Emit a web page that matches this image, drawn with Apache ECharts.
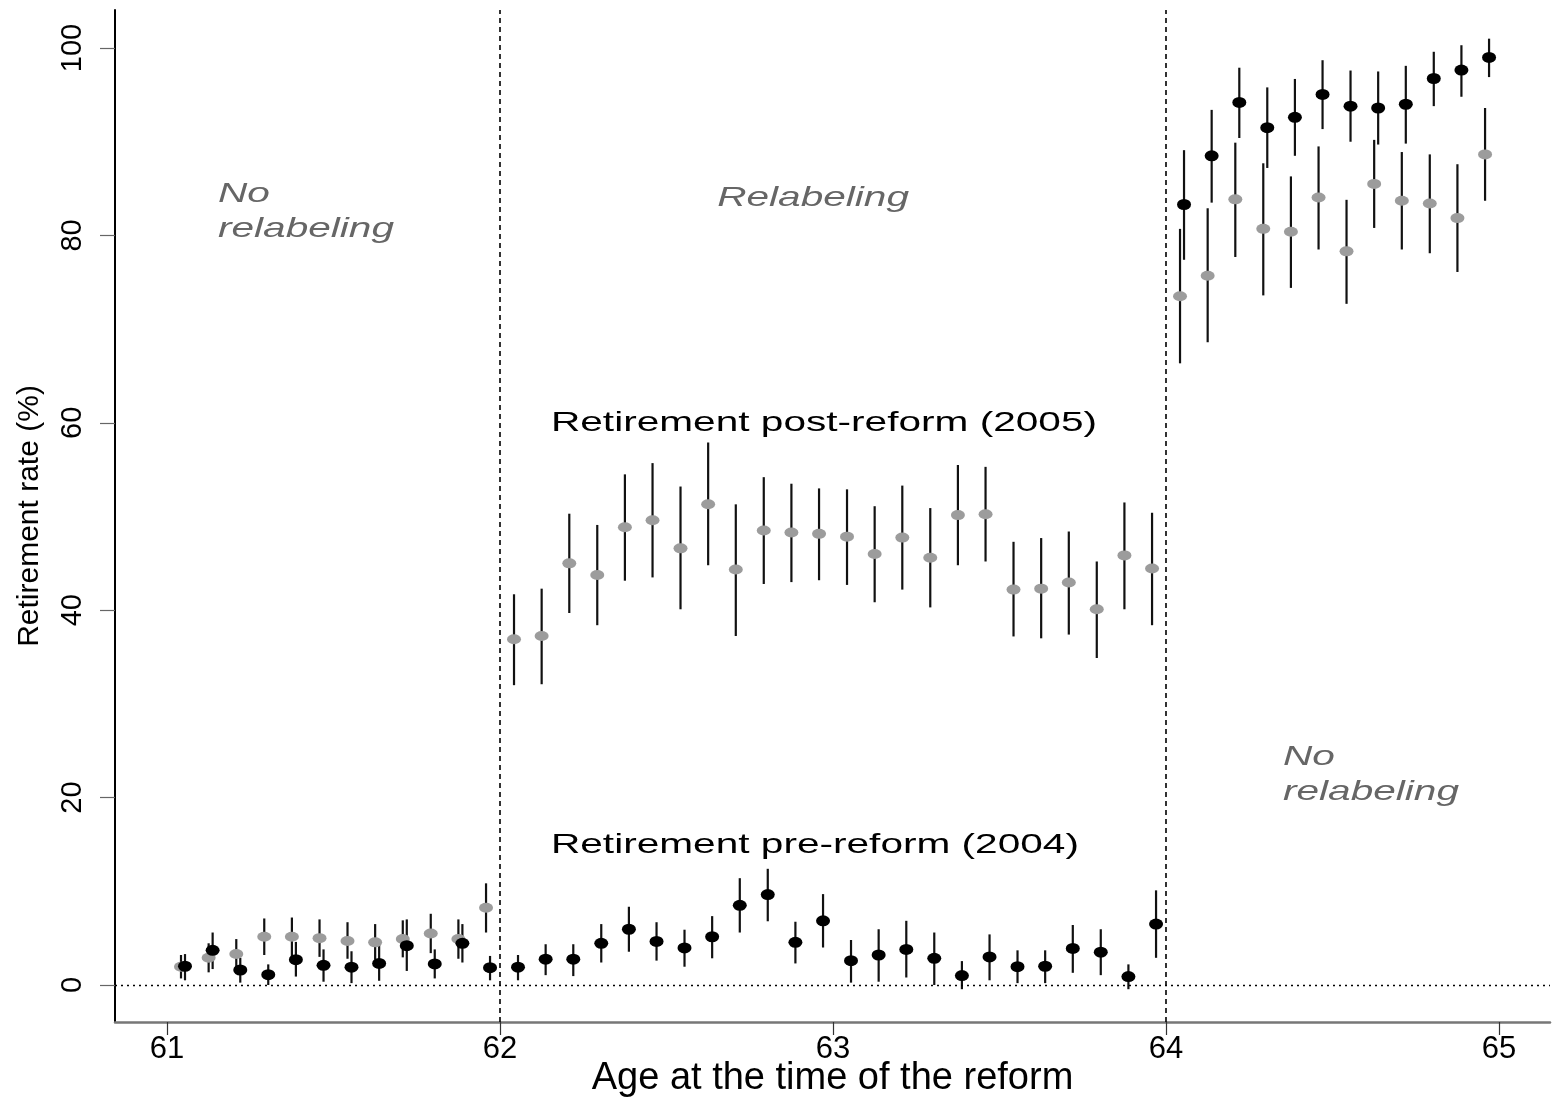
<!DOCTYPE html>
<html>
<head>
<meta charset="utf-8">
<script src="https://cdn.jsdelivr.net/npm/echarts@6/dist/echarts.min.js"></script>
<style>
html,body{margin:0;padding:0;background:#fff;}
#chart{width:1556px;height:1102px;}
</style>
</head>
<body>
<div id="chart"></div>
<script>
// Age at the time of the reform (monthly bins, midpoints)
const ages = [
  61.042, 61.125, 61.208, 61.292, 61.375, 61.458, 61.542, 61.625, 61.708, 61.792, 61.875, 61.958,
  62.042, 62.125, 62.208, 62.292, 62.375, 62.458, 62.542, 62.625, 62.708, 62.792, 62.875, 62.958,
  63.042, 63.125, 63.208, 63.292, 63.375, 63.458, 63.542, 63.625, 63.708, 63.792, 63.875, 63.958,
  64.042, 64.125, 64.208, 64.292, 64.375, 64.458, 64.542, 64.625, 64.708, 64.792, 64.875, 64.958
];

// Retirement post-reform (2005) — gray markers
const postRate = [
  1.95, 2.9, 3.3, 5.15, 5.15, 5.0, 4.7, 4.55, 4.9, 5.5, 4.9, 8.25,
  36.9, 37.25, 45.0, 43.75, 48.85, 49.6, 46.6, 51.3, 44.35, 48.5, 48.3, 48.15,
  47.85, 46.0, 47.75, 45.6, 50.15, 50.25, 42.2, 42.3, 42.95, 40.1, 45.85, 44.45,
  73.5, 75.7, 83.85, 80.7, 80.4, 84.05, 78.3, 85.5, 83.7, 83.4, 81.85, 88.65
];
const postLow = [
  0.7, 1.35, 1.6, 3.2, 3.0, 3.0, 2.8, 2.7, 2.95, 3.4, 2.8, 5.6,
  32.0, 32.1, 39.7, 38.4, 43.15, 43.5, 40.1, 44.8, 37.25, 42.8, 43.0, 43.2,
  42.7, 40.85, 42.2, 40.3, 44.8, 45.2, 37.2, 37.0, 37.4, 34.9, 40.1, 38.4,
  66.35, 68.6, 77.7, 73.6, 74.4, 78.5, 72.7, 80.8, 78.5, 78.1, 76.1, 83.7
];
const postHigh = [
  3.2, 4.45, 4.9, 7.1, 7.2, 7.0, 6.7, 6.5, 6.9, 7.6, 7.0, 10.85,
  41.7, 42.3, 50.3, 49.1, 54.5, 55.7, 53.2, 57.9, 51.3, 54.2, 53.5, 53.0,
  52.9, 51.1, 53.3, 50.9, 55.5, 55.3, 47.3, 47.7, 48.4, 45.2, 51.5, 50.4,
  80.7, 82.9, 89.9, 87.7, 86.3, 89.5, 83.8, 90.2, 88.9, 88.65, 87.6, 93.6
];

// Retirement pre-reform (2004) — black markers
const preRate = [
  2.0, 3.7, 1.6, 1.1, 2.7, 2.1, 1.9, 2.3, 4.2, 2.25, 4.45, 1.85,
  1.9, 2.75, 2.75, 4.45, 5.95, 4.65, 3.95, 5.15, 8.5, 9.65, 4.55, 6.85,
  2.6, 3.2, 3.8, 2.85, 1.0, 3.0, 1.95, 2.0, 3.9, 3.5, 0.9, 6.5,
  83.3, 88.5, 94.2, 91.5, 92.6, 95.05, 93.8, 93.6, 94.0, 96.75, 97.65, 99.0
];
const preLow = [
  0.5, 1.7, 0.25, 0.0, 0.9, 0.35, 0.2, 0.45, 1.5, 0.7, 2.4, 0.5,
  0.5, 1.05, 0.95, 2.4, 3.55, 2.6, 1.95, 2.85, 5.6, 6.8, 2.3, 4.0,
  0.25, 0.35, 0.8, 0.0, -0.45, 0.5, 0.2, 0.2, 1.3, 1.05, -0.45, 2.9,
  77.4, 83.5, 90.4, 87.2, 88.5, 91.35, 90.0, 89.7, 89.8, 93.8, 94.8, 96.9
];
const preHigh = [
  3.3, 5.6, 2.9, 2.2, 4.6, 3.8, 3.6, 4.3, 7.0, 3.8, 6.5, 3.1,
  3.2, 4.35, 4.35, 6.5, 8.35, 6.7, 5.9, 7.35, 11.4, 12.4, 6.75, 9.7,
  4.8, 5.95, 6.85, 5.6, 2.55, 5.4, 3.7, 3.7, 6.4, 5.95, 2.2, 10.1,
  89.1, 93.4, 97.9, 95.8, 96.7, 98.7, 97.6, 97.5, 98.1, 99.6, 100.3, 101.0
];

const xTicks = [61, 62, 63, 64, 65];
const yTicks = [0, 20, 40, 60, 80, 100];
const reformLines = [62, 64];

const labels = [
  {text: 'No\nrelabeling', x: 61.153, y: 82.55, italic: true},
  {text: 'Relabeling', x: 62.652, y: 84.0, italic: true},
  {text: 'Retirement post-reform (2005)', x: 62.153, y: 60.0, italic: false},
  {text: 'Retirement pre-reform (2004)', x: 62.153, y: 14.95, italic: false},
  {text: 'No\nrelabeling', x: 64.351, y: 22.47, italic: true}
];

const preOffset = 0.012; // small horizontal shift of the 2004 markers

const postBars = ages.map((a, i) => [a, postLow[i], postHigh[i]]);
const preBars = ages.map((a, i) => [a + preOffset, preLow[i], preHigh[i]]);
const postPts = ages.map((a, i) => [a, postRate[i]]);
const prePts = ages.map((a, i) => [a + preOffset, preRate[i]]);

function barRender(params, api) {
  const p1 = api.coord([api.value(0), api.value(1)]);
  const p2 = api.coord([api.value(0), api.value(2)]);
  return {
    type: 'line',
    shape: {x1: p1[0], y1: p1[1], x2: p2[0], y2: p2[1]},
    style: {stroke: '#111', lineWidth: 2.2}
  };
}

const chart = echarts.init(document.getElementById('chart'), null, {renderer: 'canvas'});

const option = {
  backgroundColor: '#ffffff',
  animation: false,
  grid: {left: 115, right: 6, top: 10, bottom: 80, containLabel: false, outerBoundsMode: 'none'},
  xAxis: {
    type: 'value',
    min: 60.8438,
    max: 65.153,
    name: 'Age at the time of the reform',
    nameLocation: 'middle',
    nameGap: 38,
    nameMoveOverlap: false,
    nameTextStyle: {fontFamily: 'Liberation Sans', fontSize: 38, color: '#000'},
    axisLine: {show: true, onZero: false, lineStyle: {color: '#777', width: 2.5}},
    axisTick: {show: true, length: 13, customValues: xTicks, lineStyle: {color: '#333', width: 1.2}},
    axisLabel: {customValues: xTicks, margin: 12, fontFamily: 'Liberation Sans', fontSize: 31, color: '#000'},
    splitLine: {show: false}
  },
  yAxis: {
    type: 'value',
    min: -3.95,
    max: 104.06,
    name: 'Retirement rate (%)',
    nameLocation: 'middle',
    nameGap: 70,
    nameMoveOverlap: false,
    nameRotate: 90,
    nameTextStyle: {fontFamily: 'Liberation Sans Narrow, Liberation Sans', fontSize: 30, color: '#000'},
    axisLine: {show: true, onZero: false, lineStyle: {color: '#000', width: 2}},
    axisTick: {show: true, length: 15, customValues: yTicks, lineStyle: {color: '#666', width: 1.2}},
    axisLabel: {customValues: yTicks, rotate: 90, margin: 28, fontFamily: 'Liberation Sans Narrow, Liberation Sans', fontSize: 29, color: '#000'},
    splitLine: {show: false}
  },
  series: [
    {
      type: 'custom',
      name: 'post CI',
      renderItem: barRender,
      data: postBars,
      encode: {x: 0, y: [1, 2]},
      z: 2,
      markLine: {
        silent: true,
        symbol: 'none',
        label: {show: false},
        lineStyle: {color: '#000', type: [5, 4], width: 1.6},
        data: reformLines.map(v => ({xAxis: v}))
      }
    },
    {
      type: 'custom',
      name: 'pre CI',
      renderItem: barRender,
      data: preBars,
      encode: {x: 0, y: [1, 2]},
      z: 2,
      markLine: {
        silent: true,
        symbol: 'none',
        label: {show: false},
        lineStyle: {color: '#000', type: [2, 4], width: 1.3},
        data: [{yAxis: 0}]
      }
    },
    {
      type: 'scatter',
      name: 'Retirement post-reform (2005)',
      data: postPts,
      symbol: 'circle',
      symbolSize: [14, 10],
      itemStyle: {color: '#9c9c9c', opacity: 1},
      z: 3
    },
    {
      type: 'scatter',
      name: 'Retirement pre-reform (2004)',
      data: prePts,
      symbol: 'circle',
      symbolSize: [14, 11],
      itemStyle: {color: '#000', opacity: 1},
      z: 4
    }
  ]
};

chart.setOption(option);

const graphics = labels.map(l => {
  const p = chart.convertToPixel({gridIndex: 0}, [l.x, l.y]);
  return {
    type: 'text',
    x: p[0],
    y: p[1],
    scaleX: 1.45,
    z: 10,
    style: {
      text: l.text,
      fill: l.italic ? '#666666' : '#000000',
      font: (l.italic ? 'italic ' : '') + '28px "Liberation Sans", Arial, sans-serif',
      textAlign: 'left',
      textVerticalAlign: 'middle',
      lineHeight: 35
    }
  };
});
chart.setOption({graphic: graphics});
</script>
</body>
</html>
